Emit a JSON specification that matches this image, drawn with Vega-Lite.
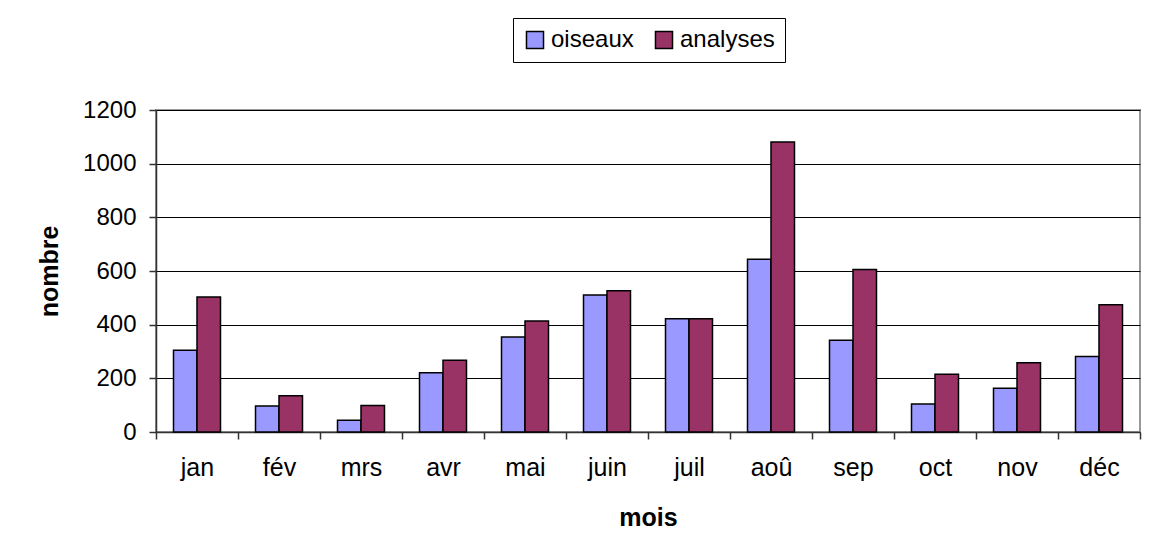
{
  "$schema": "https://vega.github.io/schema/vega-lite/v6.json",
  "autosize": "none",
  "width": 984,
  "height": 322,
  "padding": {"left": 156, "top": 110, "right": 16, "bottom": 122},
  "background": "white",
  "data": {
    "values": [
      {"mois": "jan", "serie": "oiseaux", "nombre": 305},
      {"mois": "jan", "serie": "analyses", "nombre": 503},
      {"mois": "fév", "serie": "oiseaux", "nombre": 97},
      {"mois": "fév", "serie": "analyses", "nombre": 135},
      {"mois": "mrs", "serie": "oiseaux", "nombre": 44},
      {"mois": "mrs", "serie": "analyses", "nombre": 99},
      {"mois": "avr", "serie": "oiseaux", "nombre": 221},
      {"mois": "avr", "serie": "analyses", "nombre": 267},
      {"mois": "mai", "serie": "oiseaux", "nombre": 354},
      {"mois": "mai", "serie": "analyses", "nombre": 414},
      {"mois": "juin", "serie": "oiseaux", "nombre": 511},
      {"mois": "juin", "serie": "analyses", "nombre": 526},
      {"mois": "juil", "serie": "oiseaux", "nombre": 422},
      {"mois": "juil", "serie": "analyses", "nombre": 422},
      {"mois": "aoû", "serie": "oiseaux", "nombre": 644},
      {"mois": "aoû", "serie": "analyses", "nombre": 1081},
      {"mois": "sep", "serie": "oiseaux", "nombre": 342},
      {"mois": "sep", "serie": "analyses", "nombre": 606},
      {"mois": "oct", "serie": "oiseaux", "nombre": 104},
      {"mois": "oct", "serie": "analyses", "nombre": 215},
      {"mois": "nov", "serie": "oiseaux", "nombre": 163},
      {"mois": "nov", "serie": "analyses", "nombre": 258},
      {"mois": "déc", "serie": "oiseaux", "nombre": 281},
      {"mois": "déc", "serie": "analyses", "nombre": 474}
    ]
  },
  "mark": {"type": "bar", "stroke": "black", "strokeWidth": 1.5},
  "encoding": {
    "x": {
      "field": "mois",
      "type": "nominal",
      "sort": ["jan", "fév", "mrs", "avr", "mai", "juin", "juil", "aoû", "sep", "oct", "nov", "déc"],
      "scale": {"paddingInner": 0, "paddingOuter": 0},
      "axis": {
        "title": "mois",
        "labelAngle": 0,
        "tickBand": "extent",
        "tickSize": 7,
        "tickColor": "#333333",
        "tickWidth": 1.5,
        "domainColor": "#333333",
        "domainWidth": 1.5,
        "labelFont": "Liberation Sans",
        "labelFontSize": 25,
        "labelColor": "black",
        "labelPadding": 16,
        "titleFont": "Liberation Sans",
        "titleFontSize": 25,
        "titleFontWeight": "bold",
        "titleColor": "black",
        "titlePadding": 25,
        "grid": false
      }
    },
    "xOffset": {
      "field": "serie",
      "type": "nominal",
      "sort": ["oiseaux", "analyses"],
      "scale": {"paddingInner": 0, "paddingOuter": 0.745}
    },
    "y": {
      "field": "nombre",
      "type": "quantitative",
      "scale": {"domain": [0, 1200], "nice": false},
      "axis": {
        "title": "nombre",
        "format": "d",
        "values": [0, 200, 400, 600, 800, 1000, 1200],
        "tickSize": 7,
        "tickColor": "#333333",
        "tickWidth": 1.5,
        "domainColor": "#333333",
        "domainWidth": 1.5,
        "grid": true,
        "gridColor": "black",
        "gridWidth": 1.2,
        "labelFont": "Liberation Sans",
        "labelFontSize": 24,
        "labelColor": "black",
        "labelPadding": 13,
        "titleFont": "Liberation Sans",
        "titleFontSize": 25,
        "titleFontWeight": "bold",
        "titleColor": "black",
        "titlePadding": 20
      }
    },
    "color": {
      "field": "serie",
      "type": "nominal",
      "scale": {"domain": ["oiseaux", "analyses"], "range": ["#9999FF", "#993366"]},
      "legend": {
        "title": null,
        "orient": "none",
        "legendX": 357,
        "legendY": -92,
        "direction": "horizontal",
        "symbolType": "square",
        "symbolSize": 290,
        "symbolStrokeColor": "black",
        "symbolStrokeWidth": 1.5,
        "symbolOpacity": 1,
        "labelFont": "Liberation Sans",
        "labelFontSize": 24,
        "labelColor": "black",
        "labelOffset": 4,
        "columnPadding": 18,
        "padding": 10,
        "strokeColor": "black",
        "fillColor": "white"
      }
    }
  },
  "config": {
    "view": {"stroke": "#999999", "strokeWidth": 2},
    "bar": {"discreteBandSize": null}
  }
}
